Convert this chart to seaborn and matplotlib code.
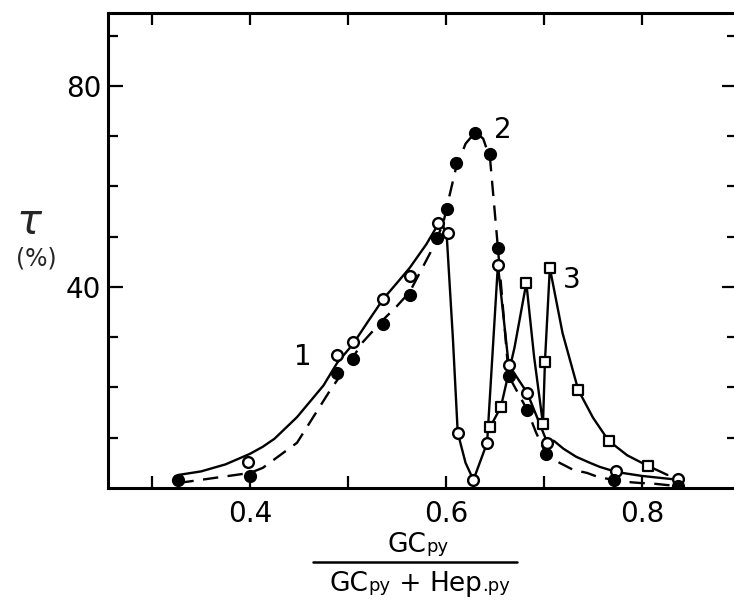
import matplotlib
matplotlib.use("Agg")
import matplotlib.pyplot as plt
import seaborn as sns
import numpy as np
from matplotlib.lines import Line2D
from matplotlib.offsetbox import TextArea, HPacker, AnnotationBbox
from matplotlib.ticker import FixedLocator, NullFormatter

# ---------------- data ----------------
# series 1: open circles
s1_x = [0.398, 0.489, 0.505, 0.536, 0.563, 0.592, 0.602, 0.612, 0.628, 0.642,
        0.653, 0.664, 0.683, 0.703, 0.774, 0.837]
s1_y = [5.2, 26.5, 29.0, 37.6, 42.2, 52.7, 50.7, 10.9, 1.6, 9.0,
        44.4, 24.5, 18.9, 9.0, 3.4, 1.8]
# series 2: filled circles
s2_x = [0.327, 0.400, 0.489, 0.505, 0.536, 0.563, 0.591, 0.601, 0.610, 0.630,
        0.645, 0.653, 0.664, 0.683, 0.702, 0.771, 0.837]
s2_y = [1.6, 2.4, 22.9, 25.7, 32.6, 38.4, 49.8, 55.5, 64.7, 70.6,
        66.5, 47.8, 22.3, 15.5, 6.8, 1.6, 0.4]
# series 3: open squares
s3_x = [0.645, 0.656, 0.682, 0.699, 0.701, 0.706, 0.735, 0.766, 0.806]
s3_y = [12.1, 16.1, 40.8, 12.7, 25.1, 43.8, 19.5, 9.4, 4.4]

# hand-drawn curves
c1_x = [0.327, 0.35, 0.375, 0.40, 0.413, 0.425, 0.448, 0.475, 0.489, 0.505, 0.52,
        0.536, 0.55, 0.563, 0.58, 0.590, 0.596, 0.601, 0.607, 0.612, 0.620, 0.628,
        0.642, 0.653, 0.664, 0.683, 0.703, 0.710, 0.72, 0.733, 0.747, 0.757,
        0.767, 0.78, 0.80, 0.829, 0.837]
c1_y = [2.6, 3.3, 4.7, 6.8, 8.2, 9.8, 14.1, 20.4, 24.9, 28.6, 33.0,
        37.6, 40.8, 43.8, 48.5, 51.8, 53.0, 49.5, 30.0, 11.0, 5.0, 1.6,
        9.0, 44.4, 24.5, 18.9, 9.2, 9.4, 7.8, 6.2, 5.0, 4.2,
        3.6, 3.0, 2.4, 1.8, 1.7]
c2_x = [0.327, 0.36, 0.40, 0.413, 0.448, 0.482, 0.50, 0.515, 0.536, 0.55,
        0.563, 0.584, 0.597, 0.604, 0.610, 0.620, 0.630, 0.638, 0.645, 0.653,
        0.664, 0.683, 0.692, 0.702, 0.716, 0.73, 0.744, 0.755, 0.771, 0.785,
        0.798, 0.81, 0.825, 0.837]
c2_y = [1.0, 1.9, 3.0, 4.0, 9.0, 19.5, 24.5, 29.0, 33.5, 36.2,
        39.0, 46.8, 52.5, 58.5, 63.5, 68.5, 70.8, 69.5, 65.5, 47.8,
        22.3, 15.5, 11.0, 6.8, 5.0, 3.6, 3.0, 2.2, 1.6, 1.2,
        1.0, 0.9, 0.6, 0.4]
c3_x = [0.645, 0.656, 0.670, 0.682, 0.690, 0.699, 0.701, 0.706, 0.709, 0.719,
        0.735, 0.75, 0.766, 0.785, 0.806, 0.815, 0.826]
c3_y = [12.1, 16.1, 28.0, 40.8, 26.0, 12.7, 25.1, 43.8, 40.8, 30.8,
        19.5, 14.0, 9.4, 6.5, 4.4, 3.6, 2.6]

curve_labels = ["1", "2", "3"]
label_x = [0.454, 0.658, 0.7286]
label_y = [26.1, 71.2, 41.4]

x_major = [0.4, 0.6, 0.8]
x_minor = [0.3, 0.5, 0.7]
x_major_labels = ["0.4", "0.6", "0.8"]
y_major = [40, 80]
y_minor = [10, 20, 30, 50, 60, 70, 90]
y_major_labels = ["40", "80"]

# ---------------- figure ----------------
sns.set_style("white")
plt.rcParams["font.family"] = ["DejaVu Sans"]

W, H = 734, 601
fig = plt.figure(figsize=(W / 100, H / 100), dpi=100)
ax = fig.add_axes([108 / W, 113 / H, (737 - 108) / W, (488 - 13) / H])

lw = 1.7
sns.lineplot(x=c1_x, y=c1_y, ax=ax, color="black", lw=lw, sort=False,
             estimator=None, zorder=2)
sns.lineplot(x=c2_x, y=c2_y, ax=ax, color="black", lw=lw, sort=False,
             estimator=None, linestyle=(0, (6.5, 4)), zorder=2)
sns.lineplot(x=c3_x, y=c3_y, ax=ax, color="black", lw=lw, sort=False,
             estimator=None, zorder=2)

sns.scatterplot(x=s1_x, y=s1_y, ax=ax, marker="o", s=60, color="white",
                edgecolor="black", linewidth=1.7, zorder=3)
sns.scatterplot(x=s2_x, y=s2_y, ax=ax, marker="o", s=72, color="black",
                edgecolor="black", linewidth=1.0, zorder=4)
sns.scatterplot(x=s3_x, y=s3_y, ax=ax, marker="s", s=52, color="white",
                edgecolor="black", linewidth=1.6, zorder=5)

for t, xx, yy in zip(curve_labels, label_x, label_y):
    ax.text(xx, yy, t, fontsize=20, ha="center", va="center", color="black")

ax.set_xlim(0.2551, 0.8970)
ax.set_ylim(0, 94.5)

ax.xaxis.set_major_locator(FixedLocator(x_major))
ax.xaxis.set_minor_locator(FixedLocator(x_minor))
ax.set_xticklabels(x_major_labels)
ax.yaxis.set_major_locator(FixedLocator(y_major))
ax.yaxis.set_minor_locator(FixedLocator(y_minor))
ax.set_yticklabels(y_major_labels)
ax.xaxis.set_minor_formatter(NullFormatter())
ax.yaxis.set_minor_formatter(NullFormatter())

ax.tick_params(axis="both", which="both", direction="in",
               top=True, right=True, bottom=True, left=True,
               width=1.6, color="black", labelsize=20, labelcolor="black")
ax.tick_params(axis="x", which="both", length=8.5, pad=9)
ax.tick_params(axis="y", which="major", length=11, pad=5)
ax.tick_params(axis="y", which="minor", length=7)

for sp in ax.spines.values():
    sp.set_linewidth(2.2)
    sp.set_color("black")
    sp.set_visible(True)

ax.set_xlabel("")
ax.set_ylabel("")

# y label: tau and (%)
fig.text(30 / W, 1 - 222 / H, r"$\tau$", fontsize=30, ha="center", va="center")
fig.text(36 / W, 1 - 258 / H, "(%)", fontsize=17, ha="center", va="center")

# x label as a fraction
def frac_part(pieces, cx, cy):
    areas = [TextArea(t, textprops=dict(fontsize=fs, color="black")) for t, fs in pieces]
    box = HPacker(children=areas, align="baseline", pad=0, sep=0)
    ab = AnnotationBbox(box, (cx / W, 1 - cy / H), xycoords="figure fraction",
                        frameon=False, box_alignment=(0.5, 0.5), pad=0)
    fig.add_artist(ab)

frac_part([("GC", 19), ("py", 13)], 418, 545)
fig.add_artist(Line2D([313 / W, 517 / W], [1 - 562 / H, 1 - 562 / H],
                      transform=fig.transFigure, color="black", lw=1.8))
frac_part([("GC", 19), ("py", 13), (" + ", 19), ("Hep", 19), (".py", 13)], 420, 584)

fig.savefig("out.png", dpi=100)
